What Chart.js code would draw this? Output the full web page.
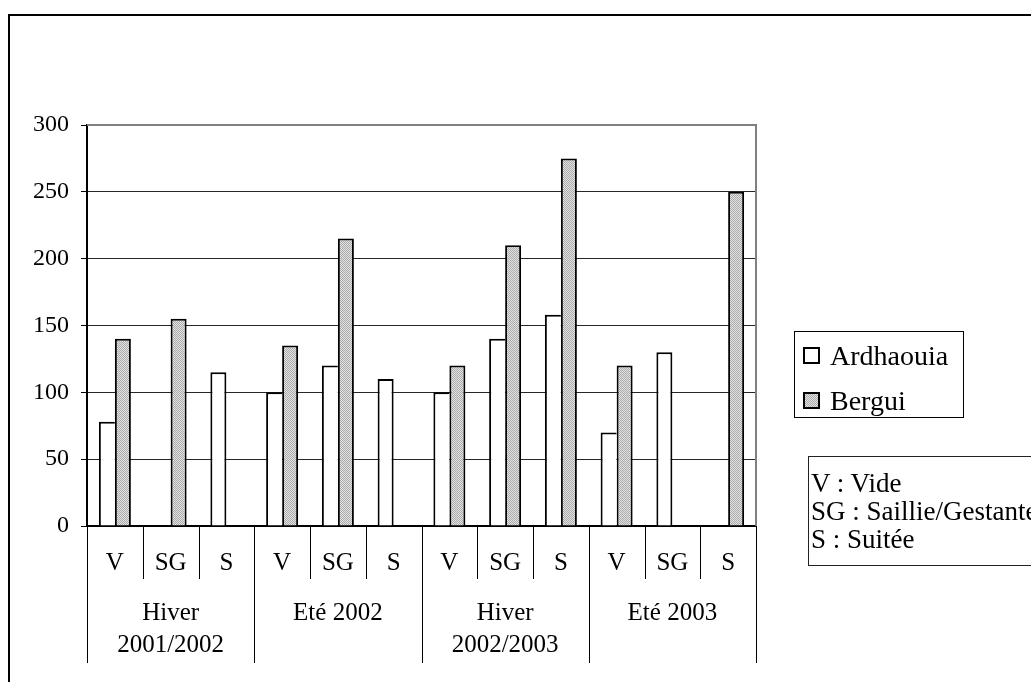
<!DOCTYPE html>
<html><head><meta charset="utf-8">
<script src="https://cdn.jsdelivr.net/npm/chart.js@4.4.0/dist/chart.umd.min.js"></script>
<style>
html,body{margin:0;padding:0;background:#fff;}
#wrap{position:relative;width:1031px;height:682px;overflow:hidden;background:#fff;}
#frame{position:absolute;left:8px;top:14px;width:1100px;height:800px;border:2px solid #000;box-sizing:border-box;}
#chartBox{position:absolute;left:0;top:0;width:1031px;height:682px;}
.serif{font-family:'Liberation Serif','Times New Roman',serif;color:#000;}
#legend{position:absolute;left:794px;top:331px;width:170px;height:87px;border:1px solid #000;box-sizing:border-box;font-size:28px;}
.lrow{position:absolute;left:0;height:32px;line-height:32px;white-space:nowrap;}
.sw{position:absolute;left:8px;top:7px;width:17px;height:17px;border:2px solid #000;box-sizing:border-box;}
.lt{position:absolute;left:35px;top:0;}
#notes{position:absolute;left:808px;top:456px;width:300px;height:110px;border:1px solid #222;box-sizing:border-box;font-size:27px;line-height:28px;padding-top:12px;padding-left:2px;white-space:nowrap;}
</style>
</head><body>
<div id="wrap">
  <div id="frame"></div>
  <div id="chartBox"><canvas id="c"></canvas></div>
  <div id="legend" class="serif"></div>
  <div id="notes" class="serif"></div>
</div>
<script>
// ---- data ----
const seasons = ['Hiver\n2001/2002', 'Eté 2002', 'Hiver\n2002/2003', 'Eté 2003'];
const states = ['V', 'SG', 'S'];
const ardhaouia = [78, null, 115, 100, 120, 110, 100, 140, 158, 70, 130, null];
const bergui = [140, 155, null, 135, 215, null, 120, 210, 275, 120, null, 250];
const seriesNames = ['Ardhaouia', 'Bergui'];
const yTicks = [0, 50, 100, 150, 200, 250, 300];
const noteLines = ['V : Vide', 'SG : Saillie/Gestante', 'S : Suitée'];

const labels = [];
seasons.forEach(s => states.forEach(st => labels.push(st)));

// stipple pattern for Bergui
function makePattern() {
  const pc = document.createElement('canvas');
  pc.width = 2; pc.height = 2;
  const p = pc.getContext('2d');
  p.fillStyle = '#e2e2e2'; p.fillRect(0, 0, 2, 2);
  p.fillStyle = '#ababab'; p.fillRect(0, 0, 1, 1); p.fillRect(1, 1, 1, 1);
  return p.createPattern(pc, 'repeat');
}
const grayPattern = makePattern();

// legend & notes (HTML text)
const legendEl = document.getElementById('legend');
seriesNames.forEach((name, i) => {
  const row = document.createElement('div');
  row.className = 'lrow';
  row.style.top = (i === 0 ? 8 : 53) + 'px';
  const sw = document.createElement('div');
  sw.className = 'sw';
  if (i === 0) sw.style.background = '#fff';
  else sw.style.background = 'repeating-conic-gradient(#ababab 0% 25%, #e2e2e2 0% 50%) 0 0 / 2px 2px';
  const t = document.createElement('span');
  t.className = 'lt';
  t.textContent = name;
  row.appendChild(sw); row.appendChild(t);
  legendEl.appendChild(row);
});
document.getElementById('notes').innerHTML = noteLines.map(l => '<div>' + l + '</div>').join('');

const FONT = "'Liberation Serif', 'Times New Roman', serif";

const axisLabelPlugin = {
  id: 'axisLabels',
  afterDraw(chart) {
    const { ctx, chartArea: ca, scales: { x } } = chart;
    ctx.save();
    // plot frame top & right (gray)
    ctx.strokeStyle = '#808080';
    ctx.lineWidth = 2;
    ctx.beginPath();
    ctx.moveTo(ca.left, ca.top); ctx.lineTo(ca.right, ca.top); ctx.lineTo(ca.right, ca.bottom);
    ctx.stroke();

    ctx.fillStyle = '#000';
    ctx.font = '25px ' + FONT;
    ctx.textAlign = 'center';
    ctx.textBaseline = 'middle';
    const n = labels.length;
    for (let i = 0; i < n; i++) {
      ctx.fillText(labels[i], x.getPixelForValue(i), ca.bottom + 37);
    }
    ctx.strokeStyle = '#000';
    ctx.lineWidth = 1;
    for (let k = 0; k <= n; k++) {
      let px;
      if (k === 0) px = ca.left;
      else if (k === n) px = ca.right;
      else px = (x.getPixelForValue(k - 1) + x.getPixelForValue(k)) / 2;
      px = Math.round(px) + 0.5;
      const len = (k % states.length === 0) ? 137 : 53;
      ctx.beginPath();
      ctx.moveTo(px, ca.bottom + 1);
      ctx.lineTo(px, ca.bottom + len);
      ctx.stroke();
    }
    seasons.forEach((s, g) => {
      const cx = x.getPixelForValue(g * states.length + 1);
      const lines = s.split('\n');
      lines.forEach((ln, j) => ctx.fillText(ln, cx, ca.bottom + 87 + j * 32));
    });
    ctx.restore();
  }
};

new Chart(document.getElementById('c'), {
  type: 'bar',
  data: {
    labels: labels,
    datasets: [
      {
        label: seriesNames[0],
        data: ardhaouia,
        backgroundColor: '#ffffff',
        borderColor: '#000',
        borderWidth: ctx => {
          const i = ctx.dataIndex;
          const other = bergui[i];
          return { top: 2, left: 2, bottom: 0, right: (other != null ? 0 : 2) };
        },
        borderSkipped: 'start',
        barPercentage: 1.0,
        categoryPercentage: 0.574
      },
      {
        label: seriesNames[1],
        data: bergui,
        backgroundColor: grayPattern,
        borderColor: '#000',
        borderWidth: { top: 2, left: 2, bottom: 0, right: 2 },
        borderSkipped: 'start',
        barPercentage: 1.0,
        categoryPercentage: 0.574
      }
    ]
  },
  options: {
    responsive: true,
    maintainAspectRatio: false,
    animation: false,
    layout: { padding: { top: 125, right: 275, bottom: 0, left: 0 } },
    plugins: { legend: { display: false }, tooltip: { enabled: false } },
    scales: {
      x: {
        ticks: { display: false },
        grid: { display: false },
        border: { display: true, color: '#000', width: 2 },
        afterFit: s => { s.height = 156; }
      },
      y: {
        min: yTicks[0],
        max: yTicks[yTicks.length - 1],
        afterBuildTicks: s => { s.ticks = yTicks.map(v => ({ value: v })); },
        ticks: { color: '#000', font: { family: FONT, size: 24 }, padding: 12 },
        grid: { color: '#262626', lineWidth: 1, tickLength: 6, tickColor: '#000' },
        border: { display: true, color: '#000', width: 2 },
        afterFit: s => { s.width = 87; }
      }
    }
  },
  plugins: [axisLabelPlugin]
});
</script>
</body></html>
